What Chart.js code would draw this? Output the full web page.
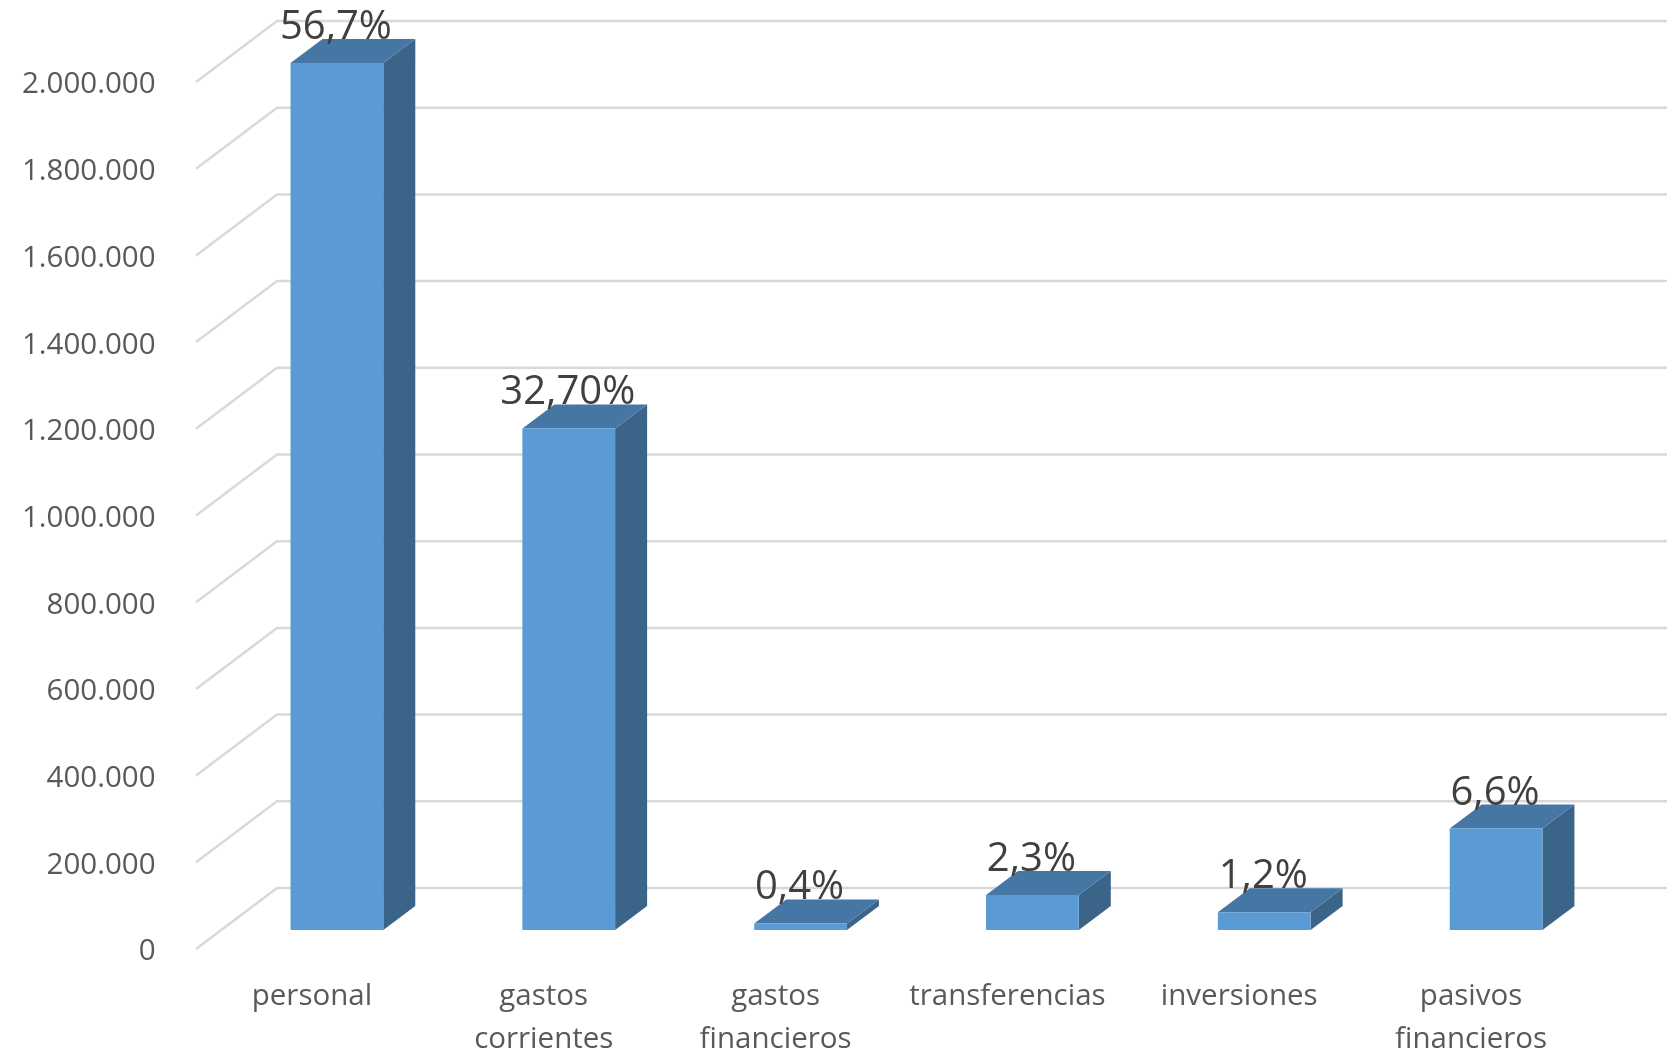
<!DOCTYPE html>
<html lang="es">
<head>
<meta charset="utf-8">
<title>Gastos por capítulo</title>
<script src="https://cdn.jsdelivr.net/npm/chart.js@4"></script>
<style>
  html, body { margin: 0; padding: 0; background: #fff; }
  canvas { display: block; }
</style>
</head>
<body>
<canvas id="chart" width="1675" height="1051"></canvas>
<script>
const categories = [
  "personal",
  ["gastos", "corrientes"],
  ["gastos", "financieros"],
  "transferencias",
  "inversiones",
  ["pasivos", "financieros"],
];
const amounts = [2000000, 1157000, 15000, 81000, 41000, 234000];
const shareLabels = ["56,7%", "32,70%", "0,4%", "2,3%", "1,2%", "6,6%"];
const yTickLabels = [
  "0", "200.000", "400.000", "600.000", "800.000", "1.000.000",
  "1.200.000", "1.400.000", "1.600.000", "1.800.000", "2.000.000",
];

const fontFamily = '"Open Sans", sans-serif';
const gridColor = "#d9d9d9";
const topColor = "#4676a3";
const sideColor = "#3a6488";

// fake 3D box, the offsets are relative to the plane the bars stand on
const barDepthX = 32;
const barDepthY = 24;
const wallFrontX = -25;
const wallFrontY = 19;
const wallBackX = 56;
const wallBackY = -42;
const wallRightEnd = 1667;

const depthPlugin = {
  id: "depth",
  beforeDatasetsDraw(chart) {
    const { ctx, scales } = chart;
    const left = scales.x.left;

    ctx.save();
    ctx.strokeStyle = gridColor;
    ctx.lineWidth = 2.5;
    scales.y.ticks.forEach((tick) => {
      const y = scales.y.getPixelForValue(tick.value);
      ctx.beginPath();
      ctx.moveTo(left + wallFrontX, y + wallFrontY);
      ctx.lineTo(left + wallBackX, y + wallBackY);
      ctx.lineTo(wallRightEnd, y + wallBackY);
      ctx.stroke();
    });

    chart.getDatasetMeta(0).data.forEach((bar) => {
      const half = bar.width / 2;
      const x0 = bar.x - half;
      const x1 = bar.x + half;

      ctx.fillStyle = sideColor;
      ctx.beginPath();
      ctx.moveTo(x1, bar.y);
      ctx.lineTo(x1 + barDepthX, bar.y - barDepthY);
      ctx.lineTo(x1 + barDepthX, bar.base - barDepthY);
      ctx.lineTo(x1, bar.base);
      ctx.closePath();
      ctx.fill();

      ctx.fillStyle = topColor;
      ctx.beginPath();
      ctx.moveTo(x0, bar.y);
      ctx.lineTo(x0 + barDepthX, bar.y - barDepthY);
      ctx.lineTo(x1 + barDepthX, bar.y - barDepthY);
      ctx.lineTo(x1, bar.y);
      ctx.closePath();
      ctx.fill();
    });
    ctx.restore();
  },
  afterDatasetsDraw(chart) {
    const { ctx } = chart;
    ctx.save();
    ctx.fillStyle = "#404040";
    ctx.font = `40px ${fontFamily}`;
    ctx.textAlign = "center";
    ctx.textBaseline = "alphabetic";
    chart.getDatasetMeta(0).data.forEach((bar, index) => {
      ctx.fillText(shareLabels[index], bar.x - 1, bar.y - 24);
    });
    ctx.restore();
  },
};

new Chart(document.getElementById("chart"), {
  type: "bar",
  data: {
    labels: categories,
    datasets: [
      {
        data: amounts,
        backgroundColor: "#5b9bd5",
        borderWidth: 0,
        barPercentage: 0.4,
        categoryPercentage: 1,
      },
    ],
  },
  plugins: [depthPlugin],
  options: {
    responsive: false,
    animation: false,
    layout: { padding: { top: 63, right: 63, left: 0, bottom: 0 } },
    plugins: {
      legend: { display: false },
      tooltip: { enabled: false },
    },
    scales: {
      x: {
        grid: { display: false },
        border: { display: false },
        afterFit(axis) {
          axis.height = 121;
          axis.paddingLeft = 0;
          axis.paddingRight = 0;
        },
        ticks: {
          color: "#595959",
          font: { family: fontFamily, size: 29.5, lineHeight: 1.45 },
          padding: 37,
          labelOffset: wallFrontX,
          autoSkip: false,
          maxRotation: 0,
          minRotation: 0,
        },
      },
      y: {
        min: 0,
        max: 2000000,
        grid: { display: false },
        border: { display: false },
        afterFit(axis) {
          axis.width = 221;
          // labels hang past the ends of the axis, keep the plot area fixed
          axis.paddingTop = 0;
          axis.paddingBottom = 0;
        },
        ticks: {
          stepSize: 200000,
          color: "#595959",
          font: { family: fontFamily, size: 29.5 },
          padding: 57.5,
          labelOffset: wallFrontY + 3,
          callback(value, index) {
            return yTickLabels[index];
          },
        },
      },
    },
  },
});
</script>
</body>
</html>
